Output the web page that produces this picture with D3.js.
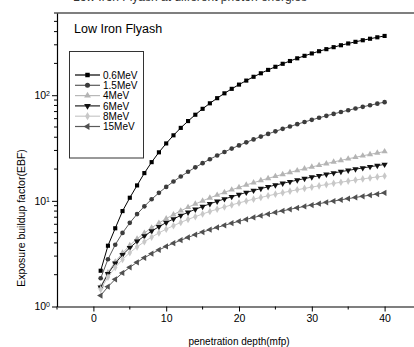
<!DOCTYPE html>
<html><head><meta charset="utf-8">
<script src="https://cdn.jsdelivr.net/npm/d3@7"></script>
<style>
body{margin:0;background:#fff}
svg{display:block;font-family:Arial,"Liberation Sans",sans-serif}
</style>
</head><body>
<svg id="chart" width="414" height="347"></svg>
<script>
// penetration depth (mfp)
const depth = [1,2,3,4,5,6,7,8,9,10,11,12,13,14,15,16,17,18,19,20,21,22,23,24,25,26,27,28,29,30,31,32,33,34,35,36,37,38,39,40];

// exposure buildup factor per photon energy
const ebf06 = [2.18,3.76,5.5,8.0,10.7,14.0,18.31,23.25,28.80,34.95,41.72,49.05,56.91,65.34,74.34,83.82,93.73,104.2,114.9,126.0,137.5,149.4,161.3,173.6,185.8,198.3,210.7,223.5,235.9,248.4,260.8,272.8,284.9,297.1,308.8,320.1,331.3,342.4,353.3,363.9];
const ebf15 = [1.85,2.80,3.84,4.97,6.19,7.49,8.88,10.36,11.91,13.54,15.24,17.01,18.85,20.77,22.74,24.78,26.87,29.03,31.24,33.50,35.81,38.17,40.57,43.02,45.51,48.03,50.59,53.18,55.81,58.46,61.14,63.84,66.56,69.30,72.06,74.82,77.60,80.40,83.19,86.0];
const ebf4 = [1.54,2.09,2.65,3.21,3.79,4.37,4.96,5.56,6.17,6.79,7.41,8.05,8.69,9.34,10.0,10.67,11.35,12.03,12.73,13.43,14.14,14.86,15.59,16.33,17.08,17.83,18.60,19.37,20.15,20.94,21.73,22.54,23.36,24.18,25.01,25.85,26.70,27.56,28.43,29.30];
const ebf6 = [1.52,2.04,2.56,3.08,3.60,4.13,4.65,5.17,5.69,6.22,6.74,7.27,7.79,8.31,8.84,9.37,9.89,10.42,10.95,11.47,12.0,12.53,13.06,13.58,14.11,14.64,15.17,15.70,16.23,16.77,17.30,17.83,18.36,18.89,19.43,19.96,20.49,21.03,21.56,22.1];
const ebf8 = [1.45,1.90,2.34,2.79,3.23,3.67,4.10,4.54,4.97,5.40,5.82,6.25,6.67,7.09,7.51,7.93,8.34,8.75,9.16,9.56,9.97,10.37,10.77,11.17,11.56,11.95,12.34,12.73,13.12,13.50,13.88,14.26,14.64,15.01,15.38,15.75,16.12,16.49,16.85,17.2];
const ebf150 = [1.27,1.54,1.81,2.08,2.35,2.62,2.89,3.16,3.43,3.70,3.97,4.24,4.51,4.79,5.06,5.33,5.60,5.87,6.14,6.41,6.68,6.96,7.23,7.50,7.77,8.04,8.32,8.59,8.86,9.13,9.41,9.68,9.95,10.23,10.50,10.77,11.05,11.32,11.60,11.9];

const energies = ["0.6MeV","1.5MeV","4MeV","6MeV","8MeV","15MeV"];
const seriesValues = [ebf06, ebf15, ebf4, ebf6, ebf8, ebf150];

const xMajor = [0,10,20,30,40];
const xMinor = [-5,5,15,25,35,45];
const yMajor = [1,10,100];
const yMinor = [2,3,4,5,6,7,8,9,20,30,40,50,60,70,80,90,200,300,400,500,600];

const titleText = "Low Iron Flyash";
const captionText = "Low Iron Flyash at different photon energies";
const xTitle = "penetration depth(mfp)";
const yTitle = "Exposure buildup factor(EBF)";

// marker / line styling per series
const styles = [
  {shape: d3.symbolSquare,   rot: 0,   size: 17, fill: "#000000", line: "#000000"},
  {shape: d3.symbolCircle,   rot: 0,   size: 17, fill: "#3c3c3c", line: "#5a5a5a"},
  {shape: d3.symbolTriangle, rot: 0,   size: 17, fill: "#b4b4b4", line: "#b8b8b8"},
  {shape: d3.symbolTriangle, rot: 180, size: 17, fill: "#111111", line: "#222222"},
  {shape: d3.symbolDiamond,  rot: 0,   size: 17, fill: "#c8c8c8", line: "#c8c8c8"},
  {shape: d3.symbolTriangle, rot: -90, size: 17, fill: "#505050", line: "#5a5a5a"}
];

const svg = d3.select("#chart");
const plotLeft = 57, plotTop = 13, plotBottom = 306.5, plotRight = 421;

const x = d3.scaleLinear().domain([-5, 45]).range([plotLeft, plotRight]);
const y = d3.scaleLog().domain([1, 600]).range([plotBottom, plotTop]);

// caption running off the top edge
svg.append("text").attr("x", 73).attr("y", 0.5)
  .attr("font-size", 12).attr("fill", "#333").text(captionText);

// frame top
svg.append("line").attr("x1", plotLeft).attr("x2", plotRight).attr("y1", plotTop).attr("y2", plotTop)
  .attr("stroke", "#000").attr("stroke-width", 1.2);

// x axis
const gx = svg.append("g").attr("transform", `translate(0,${plotBottom})`);
gx.call(d3.axisBottom(x).tickValues(xMajor).tickSize(5).tickSizeOuter(0).tickPadding(3).tickFormat(d3.format("d")));
gx.append("g").selectAll("line").data(xMinor).join("line")
  .attr("x1", d => x(d)).attr("x2", d => x(d)).attr("y1", 0).attr("y2", 3)
  .attr("stroke", "#000");
gx.select(".domain").attr("stroke-width", 1.2);
gx.selectAll("text").attr("font-size", 10.5).attr("fill", "#000").attr("font-family", "Arial, 'Liberation Sans', sans-serif");

// y axis
const gy = svg.append("g").attr("transform", `translate(${plotLeft},0)`);
gy.call(d3.axisLeft(y).tickValues(yMajor).tickSize(5).tickSizeOuter(0).tickPadding(4).tickFormat(() => ""));
gy.append("g").selectAll("line").data(yMinor).join("line")
  .attr("x1", 0).attr("x2", -3).attr("y1", d => y(d)).attr("y2", d => y(d))
  .attr("stroke", "#000");
gy.select(".domain").attr("stroke-width", 1.2);
gy.selectAll(".tick text").each(function(d) {
  const t = d3.select(this).attr("font-size", 10.5).attr("fill", "#000")
    .attr("font-family", "Arial, 'Liberation Sans', sans-serif").attr("x", -7);
  t.append("tspan").text("10");
  t.append("tspan").attr("dy", "-0.45em").attr("font-size", 7).text(Math.round(Math.log10(d)));
});

// axis titles
svg.append("text").attr("x", (x(0) + x(40)) / 2).attr("y", 344.5)
  .attr("text-anchor", "middle").attr("font-size", 10).text(xTitle);
svg.append("text").attr("transform", "translate(25,218) rotate(-90)")
  .attr("text-anchor", "middle").attr("font-size", 10.5).text(yTitle);

// plot label
svg.append("text").attr("x", 74).attr("y", 32.5).attr("font-size", 12.5).text(titleText);

// series
const lineGen = d3.line().x((d, i) => x(depth[i])).y(d => y(d));
seriesValues.forEach((vals, k) => {
  const st = styles[k];
  const g = svg.append("g");
  g.append("path").attr("d", lineGen(vals)).attr("fill", "none")
    .attr("stroke", st.line).attr("stroke-width", 1);
  g.selectAll("path.m").data(vals).join("path").attr("class", "m")
    .attr("d", d3.symbol().type(st.shape).size(st.size))
    .attr("transform", (d, i) => `translate(${x(depth[i])},${y(d)}) rotate(${st.rot})`)
    .attr("fill", st.fill);
});

// legend
const lg = svg.append("g");
lg.append("rect").attr("x", 69.5).attr("y", 51.5).attr("width", 74).attr("height", 106.5)
  .attr("fill", "none").attr("stroke", "#333").attr("stroke-width", 1);
energies.forEach((name, k) => {
  const st = styles[k];
  const yy = 75 + k * 10.3;
  lg.append("line").attr("x1", 75).attr("x2", 100).attr("y1", yy).attr("y2", yy)
    .attr("stroke", st.line).attr("stroke-width", 1.2);
  lg.append("path").attr("d", d3.symbol().type(st.shape).size(st.size + 3))
    .attr("transform", `translate(87.5,${yy}) rotate(${st.rot})`).attr("fill", st.fill);
  lg.append("text").attr("x", 103).attr("y", yy + 3.6).attr("font-size", 10).text(name);
});
</script>
</body></html>
